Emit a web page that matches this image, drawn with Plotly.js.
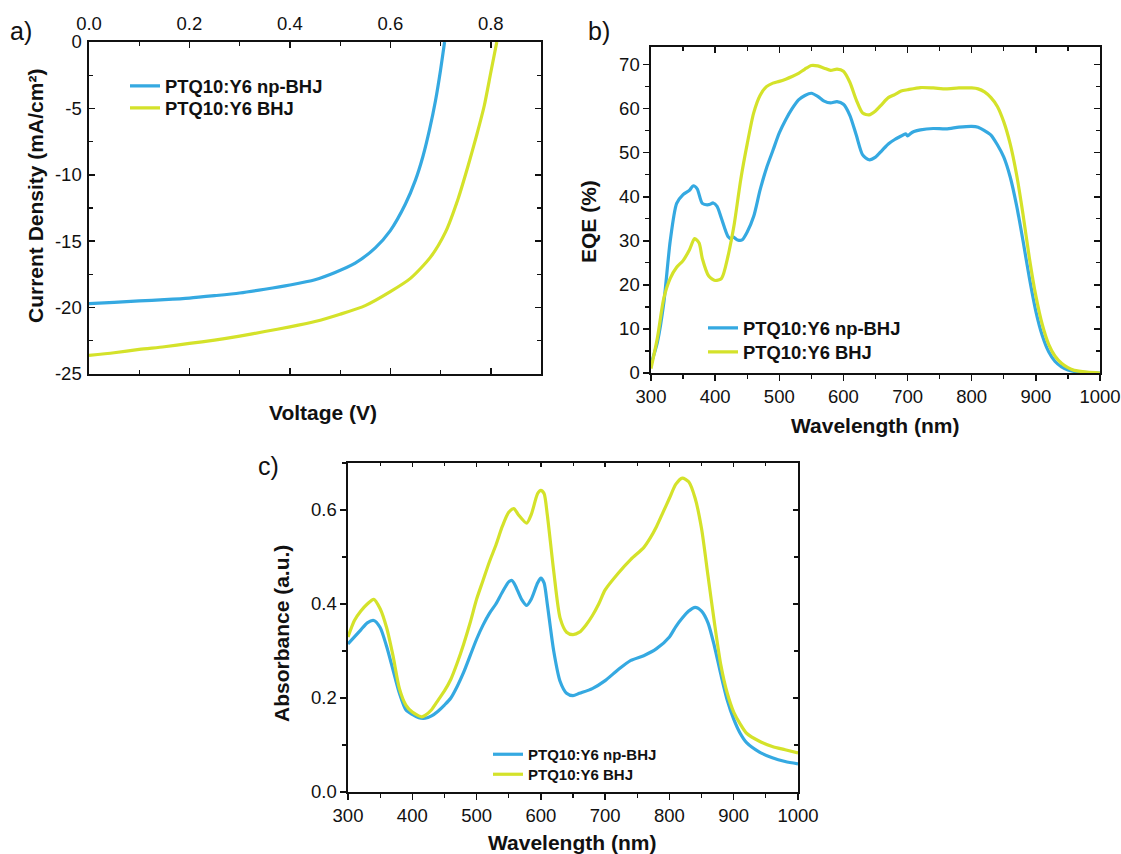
<!DOCTYPE html>
<html>
<head>
<meta charset="utf-8">
<script src="https://cdn.plot.ly/plotly-3.0.1.min.js"></script>
<style>
  html, body { margin: 0; padding: 0; background: #ffffff; }
  #chart { width: 1121px; height: 854px; }
</style>
</head>
<body>
<div id="chart"></div>
<script>
// ---------- Data ----------
const seriesNames = ['PTQ10:Y6 np-BHJ', 'PTQ10:Y6 BHJ'];

// a) J-V curves
const voltageNp = [0, 0.05, 0.1, 0.15, 0.2, 0.25, 0.3, 0.35, 0.4, 0.45, 0.49, 0.53, 0.57, 0.6, 0.63, 0.65, 0.665, 0.678, 0.69, 0.70, 0.708];
const currentNp = [-19.7, -19.6, -19.5, -19.4, -19.28, -19.1, -18.9, -18.62, -18.3, -17.9, -17.35, -16.65, -15.5, -14.2, -12.2, -10.4, -8.6, -6.6, -4.4, -2.1, 0];
const voltageBhj = [0, 0.05, 0.1, 0.15, 0.2, 0.25, 0.3, 0.35, 0.4, 0.45, 0.5, 0.55, 0.6, 0.64, 0.68, 0.71, 0.735, 0.755, 0.772, 0.787, 0.80, 0.812];
const currentBhj = [-23.6, -23.4, -23.15, -22.95, -22.7, -22.45, -22.15, -21.8, -21.45, -21.05, -20.5, -19.85, -18.8, -17.8, -16.2, -14.3, -11.8, -9.3, -7.0, -4.8, -2.3, 0];
const jvYTickVals = [0, -5, -10, -15, -20, -25];
const jvYTickText = ['0', '-5', '-10', '-15', '-20', '-25'];
const jvXTickVals = [0, 0.2, 0.4, 0.6, 0.8];
const jvXTickText = ['0.0', '0.2', '0.4', '0.6', '0.8'];

// b) EQE spectra
const eqeWlNp = [300, 310, 320, 330, 340, 350, 360, 366, 372, 380, 390, 397, 403, 410, 420, 425, 428, 435, 442, 450, 460, 470, 480, 490, 500, 510, 520, 530, 540, 550, 560, 570, 580, 590, 600, 610, 620, 630, 640, 650, 660, 670, 680, 690, 697, 700, 705, 710, 720, 740, 760, 780, 800, 810, 820, 830, 840, 850, 860, 870, 880, 890, 900, 910, 920, 930, 940, 950, 960, 980, 1000];
const eqeNp = [2, 7, 16, 30, 38.5, 40.5, 41.5, 42.5, 41.8, 38.5, 38.2, 38.6, 37.8, 35, 31, 30.5, 30.9, 30.2, 30.2, 32, 35.5, 41.5, 46.5, 50.5, 54.5, 57.5, 60, 62, 63, 63.5, 62.8, 61.7, 61.3, 61.6, 61.0, 58.5, 54, 49.5, 48.4, 49, 50.5, 52, 53, 53.8, 54.3, 53.8, 54.4, 54.8, 55.2, 55.5, 55.4, 55.8, 56, 55.8, 55, 54, 51.8, 49, 44.5, 38, 30, 21.5, 14, 8.5, 4.8, 2.6, 1.4, 0.7, 0.35, 0.1, 0];
const eqeWlBhj = [300, 310, 320, 330, 340, 350, 360, 368, 375, 380, 390, 400, 410, 420, 425, 430, 440, 450, 460, 470, 480, 490, 500, 510, 520, 530, 540, 550, 560, 570, 580, 590, 600, 610, 620, 630, 640, 650, 660, 670, 680, 690, 700, 720, 740, 760, 780, 800, 810, 820, 830, 840, 850, 860, 870, 880, 890, 900, 910, 920, 930, 940, 950, 960, 980, 1000];
const eqeBhj = [1, 8, 17, 21.5, 24, 25.5, 28, 30.5, 29.5, 26, 22, 21, 21.5, 26.5, 30, 34, 44, 52, 59, 63, 65, 65.8, 66.2, 66.7, 67.3, 68, 69, 69.8, 69.7, 69.2, 68.7, 69, 68.5, 66, 62, 59, 58.6, 59.5, 61, 62.5, 63.2, 64, 64.3, 64.8, 64.7, 64.5, 64.7, 64.7, 64.5, 63.8, 62.5, 60.5, 57, 52, 45, 36, 26, 17.5, 11, 6.5, 3.8, 2.2, 1.2, 0.6, 0.2, 0];

// c) Absorbance spectra
const absWlNp = [300, 310, 320, 330, 340, 350, 360, 370, 380, 390, 400, 410, 420, 430, 440, 450, 460, 470, 480, 490, 500, 510, 520, 530, 540, 550, 555, 560, 570, 578, 585, 595, 600, 605, 610, 620, 630, 640, 650, 660, 680, 700, 720, 740, 760, 780, 800, 810, 820, 830, 840, 850, 860, 870, 880, 890, 900, 910, 920, 940, 960, 980, 1000];
const absNp = [0.315, 0.33, 0.345, 0.36, 0.365, 0.35, 0.31, 0.26, 0.21, 0.175, 0.165, 0.158, 0.157, 0.162, 0.172, 0.185, 0.2, 0.225, 0.255, 0.29, 0.325, 0.355, 0.38, 0.4, 0.425, 0.447, 0.45, 0.44, 0.41, 0.397, 0.41, 0.445, 0.455, 0.445, 0.4, 0.3, 0.235, 0.21, 0.205, 0.21, 0.22, 0.237, 0.26, 0.28, 0.29, 0.305, 0.33, 0.352, 0.37, 0.385, 0.393, 0.385, 0.36, 0.31, 0.25, 0.195, 0.155, 0.125, 0.105, 0.085, 0.073, 0.065, 0.06];
const absWlBhj = [300, 310, 320, 330, 340, 350, 360, 370, 380, 390, 400, 410, 415, 420, 430, 440, 450, 460, 470, 480, 490, 500, 510, 520, 530, 540, 550, 558, 565, 578, 585, 595, 600, 605, 610, 620, 630, 640, 650, 660, 670, 680, 690, 700, 720, 740, 760, 770, 780, 790, 800, 810, 820, 830, 840, 850, 860, 870, 880, 890, 900, 910, 920, 940, 960, 980, 1000];
const absBhj = [0.33, 0.365, 0.385, 0.4, 0.41, 0.39, 0.35, 0.29, 0.22, 0.185, 0.17, 0.162, 0.16, 0.163, 0.175, 0.195, 0.215, 0.24, 0.275, 0.315, 0.36, 0.41, 0.45, 0.49, 0.525, 0.565, 0.595, 0.603, 0.59, 0.572, 0.59, 0.635, 0.642, 0.635, 0.59, 0.47, 0.37, 0.34, 0.335, 0.34, 0.355, 0.375, 0.4, 0.43, 0.465, 0.495, 0.52, 0.54, 0.565, 0.595, 0.625, 0.655, 0.668, 0.66, 0.625, 0.56, 0.46, 0.36, 0.27, 0.21, 0.17, 0.145, 0.125, 0.108, 0.097, 0.09, 0.083];

// ---------- Styling ----------
const BLUE = '#35a9e1';
const YELLOW = '#d4e22a';
const FONT = 'Liberation Sans, Arial, Helvetica, sans-serif';
const W = 1121, H = 854;
const px = v => v / W;
const py = v => 1 - v / H;

function lineTrace(x, y, name, color, xa, ya, legend) {
  return {
    x: x, y: y, name: '<b>' + name + '</b>', type: 'scatter', mode: 'lines',
    line: { color: color, width: 3.2, shape: 'spline', smoothing: 0.7 },
    xaxis: xa, yaxis: ya, legend: legend, hoverinfo: 'skip'
  };
}

const traces = [
  lineTrace(voltageNp, currentNp, seriesNames[0], BLUE, 'x', 'y', 'legend'),
  lineTrace(voltageBhj, currentBhj, seriesNames[1], YELLOW, 'x', 'y', 'legend2'),
  lineTrace(eqeWlNp, eqeNp, seriesNames[0], BLUE, 'x2', 'y2', 'legend3'),
  lineTrace(eqeWlBhj, eqeBhj, seriesNames[1], YELLOW, 'x2', 'y2', 'legend4'),
  lineTrace(absWlNp, absNp, seriesNames[0], BLUE, 'x3', 'y3', 'legend5'),
  lineTrace(absWlBhj, absBhj, seriesNames[1], YELLOW, 'x3', 'y3', 'legend6'),
  // helper traces so mirror axes (inside ticks) are drawn
  { x: [], y: [], xaxis: 'x4', yaxis: 'y4', type: 'scatter', showlegend: false, hoverinfo: 'skip' },
  { x: [], y: [], xaxis: 'x5', yaxis: 'y5', type: 'scatter', showlegend: false, hoverinfo: 'skip' }
];

const tickFont = { family: FONT, size: 18.5, color: '#111' };
const baseAxis = {
  showgrid: false, zeroline: false, showline: true, linecolor: '#111', linewidth: 1.6,
  tickcolor: '#111', tickwidth: 1.5, tickfont: tickFont, fixedrange: true
};

const domA = { x: [px(89), px(541)], y: [py(374), py(42)] };
const domB = { x: [px(651), px(1100)], y: [py(373), py(47)] };
const domC = { x: [px(348), px(798)], y: [py(792), py(463)] };

const legFont = { family: FONT, size: 18.4, color: '#111' };
const legSmall = { family: FONT, size: 15, color: '#111' };
function leg(xPix, yPix, font) {
  return { x: px(xPix), y: py(yPix), xanchor: 'left', yanchor: 'top',
           bgcolor: 'rgba(0,0,0,0)', borderwidth: 0, font: font, tracegroupgap: 0 };
}

const layout = {
  width: W, height: H,
  margin: { l: 0, r: 0, t: 0, b: 0 },
  paper_bgcolor: '#ffffff', plot_bgcolor: 'rgba(0,0,0,0)',
  font: { family: FONT, color: '#111' },
  // Panel a
  xaxis: Object.assign({}, baseAxis, {
    domain: domA.x, anchor: 'y', side: 'top', range: [0, 0.9],
    tickvals: jvXTickVals, ticktext: jvXTickText, ticklabelstandoff: 3,
    ticks: 'inside', ticklen: 6, mirror: 'allticks',
    minor: { ticks: 'inside', ticklen: 4, dtick: 0.1, tick0: 0, tickcolor: '#111', tickwidth: 1.2 }
  }),
  yaxis: Object.assign({}, baseAxis, {
    domain: domA.y, anchor: 'x', range: [-25, 0],
    tickvals: jvYTickVals, ticktext: jvYTickText, ticklabelstandoff: 2,
    ticks: 'inside', ticklen: 6, mirror: 'allticks',
    minor: { ticks: 'inside', ticklen: 4, dtick: 2.5, tick0: 0, tickcolor: '#111', tickwidth: 1.2 }
  }),
  // Panel b
  xaxis2: Object.assign({}, baseAxis, {
    domain: domB.x, anchor: 'y2', range: [300, 1000], dtick: 100, tick0: 300,
    ticks: 'outside', ticklen: 6, mirror: true,
    minor: { ticks: 'outside', ticklen: 4, dtick: 50, tickcolor: '#111', tickwidth: 1.2 }
  }),
  yaxis2: Object.assign({}, baseAxis, {
    domain: domB.y, anchor: 'x2', range: [0, 74], dtick: 10, tick0: 0,
    ticks: 'outside', ticklen: 6, mirror: true,
    minor: { ticks: 'outside', ticklen: 4, dtick: 5, tickcolor: '#111', tickwidth: 1.2 }
  }),
  xaxis4: Object.assign({}, baseAxis, {
    overlaying: 'x2', anchor: 'y2', side: 'top', range: [300, 1000], dtick: 100, tick0: 300,
    showticklabels: false, ticks: 'inside', ticklen: 6, showline: false,
    minor: { ticks: 'inside', ticklen: 4, dtick: 50, tickcolor: '#111', tickwidth: 1.2 }
  }),
  yaxis4: Object.assign({}, baseAxis, {
    overlaying: 'y2', anchor: 'x2', side: 'right', range: [0, 74], dtick: 10, tick0: 0,
    showticklabels: false, ticks: 'inside', ticklen: 6, showline: false,
    minor: { ticks: 'inside', ticklen: 4, dtick: 5, tickcolor: '#111', tickwidth: 1.2 }
  }),
  // Panel c
  xaxis3: Object.assign({}, baseAxis, {
    domain: domC.x, anchor: 'y3', range: [300, 1000], dtick: 100, tick0: 300,
    ticks: 'outside', ticklen: 6, mirror: true,
    minor: { ticks: 'outside', ticklen: 4, dtick: 50, tickcolor: '#111', tickwidth: 1.2 }
  }),
  yaxis3: Object.assign({}, baseAxis, {
    domain: domC.y, anchor: 'x3', range: [0, 0.7], dtick: 0.2, tick0: 0, tickformat: '.1f',
    ticks: 'outside', ticklen: 6, mirror: true,
    minor: { ticks: 'outside', ticklen: 4, dtick: 0.1, tickcolor: '#111', tickwidth: 1.2 }
  }),
  xaxis5: Object.assign({}, baseAxis, {
    overlaying: 'x3', anchor: 'y3', side: 'top', range: [300, 1000], dtick: 100, tick0: 300,
    showticklabels: false, ticks: 'inside', ticklen: 4, showline: false,
    minor: { ticks: 'inside', ticklen: 3, dtick: 50, tickcolor: '#111', tickwidth: 1 }
  }),
  yaxis5: Object.assign({}, baseAxis, {
    overlaying: 'y3', anchor: 'x3', side: 'right', range: [0, 0.7], dtick: 0.2, tick0: 0,
    showticklabels: false, ticks: 'inside', ticklen: 5, showline: false,
    minor: { ticks: 'inside', ticklen: 4, dtick: 0.1, tickcolor: '#111', tickwidth: 1.2 }
  }),
  legend: leg(125, 67.5, legFont),
  legend2: leg(125, 89.5, legFont),
  legend3: leg(703, 309.5, legFont),
  legend4: leg(703, 333.5, legFont),
  legend5: leg(488, 738, legSmall),
  legend6: leg(488, 758, legSmall),
  annotations: [
    // panel labels
    { text: 'a)', x: px(8), y: py(31), xref: 'paper', yref: 'paper', xanchor: 'left', yanchor: 'middle', showarrow: false, font: { family: FONT, size: 25, color: '#111' } },
    { text: 'b)', x: px(586), y: py(31), xref: 'paper', yref: 'paper', xanchor: 'left', yanchor: 'middle', showarrow: false, font: { family: FONT, size: 25, color: '#111' } },
    { text: 'c)', x: px(256), y: py(466), xref: 'paper', yref: 'paper', xanchor: 'left', yanchor: 'middle', showarrow: false, font: { family: FONT, size: 25, color: '#111' } },
    // axis titles
    { text: '<b>Voltage (V)</b>', x: px(323), y: py(412), xref: 'paper', yref: 'paper', xanchor: 'center', yanchor: 'middle', showarrow: false, font: { family: FONT, size: 21, color: '#111' } },
    { text: '<b>Current Density (mA/cm²)</b>', x: px(35), y: py(196), xref: 'paper', yref: 'paper', xanchor: 'center', yanchor: 'middle', textangle: -90, showarrow: false, font: { family: FONT, size: 21, color: '#111' } },
    { text: '<b>Wavelength (nm)</b>', x: px(875), y: py(425), xref: 'paper', yref: 'paper', xanchor: 'center', yanchor: 'middle', showarrow: false, font: { family: FONT, size: 21, color: '#111' } },
    { text: '<b>EQE (%)</b>', x: px(588), y: py(222), xref: 'paper', yref: 'paper', xanchor: 'center', yanchor: 'middle', textangle: -90, showarrow: false, font: { family: FONT, size: 21, color: '#111' } },
    { text: '<b>Wavelength (nm)</b>', x: px(572), y: py(842), xref: 'paper', yref: 'paper', xanchor: 'center', yanchor: 'middle', showarrow: false, font: { family: FONT, size: 21, color: '#111' } },
    { text: '<b>Absorbance (a.u.)</b>', x: px(281), y: py(634), xref: 'paper', yref: 'paper', xanchor: 'center', yanchor: 'middle', textangle: -90, showarrow: false, font: { family: FONT, size: 21, color: '#111' } }
  ],
  showlegend: true
};

Plotly.newPlot('chart', traces, layout, { staticPlot: true, displayModeBar: false });
</script>
</body>
</html>
